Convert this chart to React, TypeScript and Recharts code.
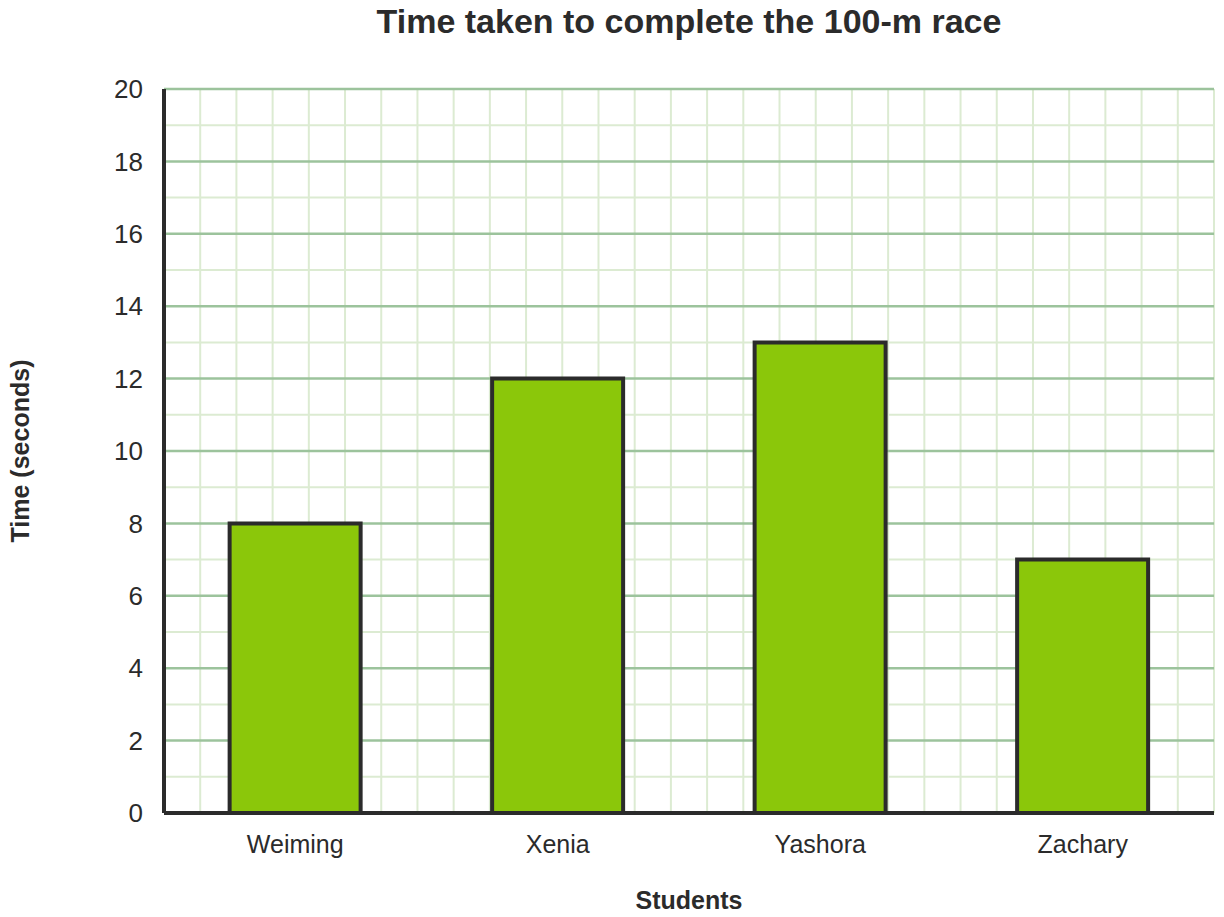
import React from "react";
import {
  BarChart,
  Bar,
  XAxis,
  YAxis,
  CartesianGrid,
} from "recharts";

const students = ["Weiming", "Xenia", "Yashora", "Zachary"];
const times = [8, 12, 13, 7];
const yTicks = [0, 2, 4, 6, 8, 10, 12, 14, 16, 18, 20];
const minorY = [1, 3, 5, 7, 9, 11, 13, 15, 17, 19];
// the paper grid has 29 columns across the plot
const gridColumns = 29;

const data = students.map((name, i) => ({ name, time: times[i] }));

const FONT = '"Liberation Sans", Arial, sans-serif';
const TEXT = "#2b2b2b";

const columnLines = ({ offset }: any) =>
  Array.from({ length: gridColumns }, (_, i) => offset.left + (offset.width * (i + 1)) / gridColumns);

export default function App() {
  return (
    <div style={{ position: "absolute", left: 0, top: 0, width: 1224, height: 917, fontFamily: FONT }}>
      <div
        style={{
          position: "absolute",
          left: 164,
          width: 1050,
          top: 0,
          textAlign: "center",
          fontSize: 34,
          fontWeight: "bold",
          color: TEXT,
          lineHeight: "42px",
        }}
      >
        Time taken to complete the 100-m race
      </div>
      <BarChart
        width={1224}
        height={917}
        data={data}
        margin={{ top: 89, right: 10, bottom: 0, left: 0 }}
        barCategoryGap="25%"
      >
        <CartesianGrid
          verticalCoordinatesGenerator={columnLines}
          horizontalValues={minorY}
          stroke="#dcebd2"
          strokeWidth={2}
        />
        <CartesianGrid
          vertical={false}
          horizontalValues={yTicks.slice(1)}
          stroke="#9cc39c"
          strokeWidth={2.5}
        />
        <XAxis
          dataKey="name"
          height={104}
          axisLine={{ stroke: TEXT, strokeWidth: 4 }}
          tickLine={false}
          tickSize={0}
          tickMargin={22}
          tick={{ fill: TEXT, fontSize: 25, fontFamily: FONT }}
          label={{
            value: "Students",
            position: "insideBottom",
            offset: 8,
            style: { fill: TEXT, fontSize: 25, fontWeight: "bold", fontFamily: FONT },
          }}
        />
        <YAxis
          domain={[0, 20]}
          ticks={yTicks}
          width={164}
          axisLine={{ stroke: TEXT, strokeWidth: 4 }}
          tickLine={false}
          tickSize={0}
          tickMargin={21}
          tick={{ fill: TEXT, fontSize: 26, fontFamily: FONT }}
          label={{
            value: "Time (seconds)",
            angle: -90,
            position: "insideLeft",
            offset: 20,
            style: { fill: TEXT, fontSize: 25, fontWeight: "bold", fontFamily: FONT, textAnchor: "middle" },
          }}
        />
        <Bar
          dataKey="time"
          fill="#8bc70a"
          stroke={TEXT}
          strokeWidth={4}
          isAnimationActive={false}
        />
      </BarChart>
    </div>
  );
}
